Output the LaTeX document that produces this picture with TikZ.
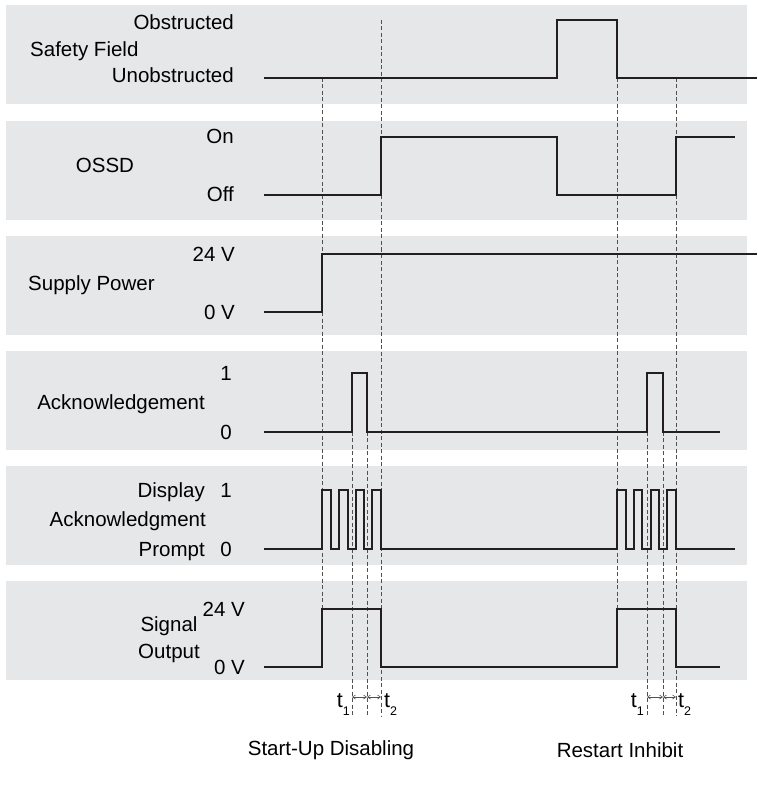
\documentclass[tikz,border=0pt]{standalone}
\usepackage{fontspec}
\setmainfont{Liberation Sans}
\usetikzlibrary{arrows.meta}
\definecolor{panelgray}{HTML}{E6E7E8}
\definecolor{sigblack}{HTML}{231F20}
\definecolor{guidegray}{HTML}{505050}
\newcommand{\tsub}[1]{t\raisebox{-8pt}{\fontsize{12.5}{12.5}\selectfont #1}}
\begin{document}
\begin{tikzpicture}[x=1pt,y=-1pt,
  panel/.style={fill=panelgray,draw=none},
  sig/.style={draw=sigblack,line width=2pt,line join=miter},
  guide/.style={draw=guidegray,line width=0.9pt,dash pattern=on 4pt off 2.5pt},
  lbl/.style={inner sep=0pt,font=\fontsize{20.5}{24}\selectfont},
  tlbl/.style={inner sep=0pt,font=\fontsize{21.5}{24}\selectfont},
  tarrow/.style={draw=guidegray,line width=0.6pt,{Straight Barb[length=3pt,width=4pt]}-{Straight Barb[length=3pt,width=4pt]}}
]
\useasboundingbox (0,0) rectangle (757,786);
\fill[white] (0,0) rectangle (757,786);
% panels
\foreach \t [count=\i] in {5,121,236,351,466,580.5}
  \fill[panel] (6,\t) rectangle (746.5,\t+99);
% guide coordinates
\coordinate (gA1) at (322,78);  \coordinate (gA2) at (322,609);
\coordinate (gB1) at (352,373); \coordinate (gB2) at (352,716);
\coordinate (gC1) at (367,373); \coordinate (gC2) at (367,716);
\coordinate (gD1) at (381,20);  \coordinate (gD2) at (381,716);
\coordinate (gE1) at (617,78);  \coordinate (gE2) at (617,609);
\coordinate (gF1) at (647,373); \coordinate (gF2) at (647,716);
\coordinate (gG1) at (663,373); \coordinate (gG2) at (663,716);
\coordinate (gH1) at (676,78);  \coordinate (gH2) at (676,716);
\foreach \g in {A,B,C,D,E,F,G,H} \draw[guide] (g\g1) -- (g\g2);
% signals
\draw[sig] (264,78) -- (557,78) -- (557,20) -- (617,20) -- (617,78) -- (757,78);
\draw[sig] (264,195) -- (381,195) -- (381,137) -- (557,137) -- (557,195) -- (676,195) -- (676,137) -- (735,137);
\draw[sig] (264,312) -- (322,312) -- (322,254) -- (757,254);
\draw[sig] (264,432) -- (352,432) -- (352,373) -- (367,373) -- (367,432) -- (647,432) -- (647,373) -- (663,373) -- (663,432) -- (720,432);
\draw[sig] (264,549) -- (322,549)
  -- (322,490) -- (331,490) -- (331,549) -- (339,549)
  -- (339,490) -- (347.7,490) -- (347.7,549) -- (355.7,549)
  -- (355.7,490) -- (364.3,490) -- (364.3,549) -- (372.3,549)
  -- (372.3,490) -- (381,490) -- (381,549) -- (617.3,549)
  -- (617.3,490) -- (625.7,490) -- (625.7,549) -- (633.7,549)
  -- (633.7,490) -- (642.3,490) -- (642.3,549) -- (650.7,549)
  -- (650.7,490) -- (659,490) -- (659,549) -- (667.3,549)
  -- (667.3,490) -- (676,490) -- (676,549) -- (735,549);
\draw[sig] (264,667) -- (322,667) -- (322,609) -- (381,609) -- (381,667) -- (617,667) -- (617,609) -- (676,609) -- (676,667) -- (720,667);
% labels panel 1
\node[lbl,anchor=base east] (obs) at (234,30) {Obstructed};
\node[lbl,anchor=base west] (sf) at (30,57) {Safety Field};
\node[lbl,anchor=base east] (unobs) at (234,83) {Unobstructed};
% panel 2
\node[lbl,anchor=base east] (on) at (234,144) {On};
\node[lbl,anchor=base] (ossd) at (105,173) {OSSD};
\node[lbl,anchor=base east] (off) at (234,202) {Off};
% panel 3
\node[lbl,anchor=base east] (v24a) at (235,261) {24 V};
\node[lbl,anchor=base west] (sp) at (28,290) {Supply Power};
\node[lbl,anchor=base east] (v0a) at (235,319) {0 V};
% panel 4
\node[lbl,anchor=base east] (one4) at (232,380) {1};
\node[lbl,anchor=base east] (ack) at (205,409) {Acknowledgement};
\node[lbl,anchor=base east] (zero4) at (232,439) {0};
% panel 5
\node[lbl,anchor=base east] (one5) at (232,497) {1};
\node[lbl,anchor=base east] (disp) at (205,497) {Display};
\node[lbl,anchor=base east] (ackp) at (206,526) {Acknowledgment};
\node[lbl,anchor=base east] (prompt) at (205,556) {Prompt};
\node[lbl,anchor=base east] (zero5) at (232,556) {0};
% panel 6
\node[lbl,anchor=base east] (v24b) at (245,616) {24 V};
\node[lbl,anchor=base] (sig6) at (169,631) {Signal};
\node[lbl,anchor=base] (out6) at (169,658) {Output};
\node[lbl,anchor=base east] (v0b) at (245,674) {0 V};
% t annotations
\node[tlbl,anchor=base east] (t1a) at (350,707) {\tsub{1}};
\node[tlbl,anchor=base west] (t2a) at (384,707) {\tsub{2}};
\node[tlbl,anchor=base east] (t1b) at (644,707) {\tsub{1}};
\node[tlbl,anchor=base west] (t2b) at (678,707) {\tsub{2}};
\coordinate (aB) at (352,697); \coordinate (aC) at (367,697); \coordinate (aD) at (381,697);
\coordinate (aF) at (647,697); \coordinate (aG) at (663,697); \coordinate (aH) at (676,697);
\draw[tarrow] (aB) -- (aC);
\draw[tarrow] (aC) -- (aD);
\draw[tarrow] (aF) -- (aG);
\draw[tarrow] (aG) -- (aH);
% bottom labels
\node[lbl,anchor=base] (sud) at (331,755) {Start-Up Disabling};
\node[lbl,anchor=base] (ri) at (620,757) {Restart Inhibit};
\end{tikzpicture}
\end{document}
